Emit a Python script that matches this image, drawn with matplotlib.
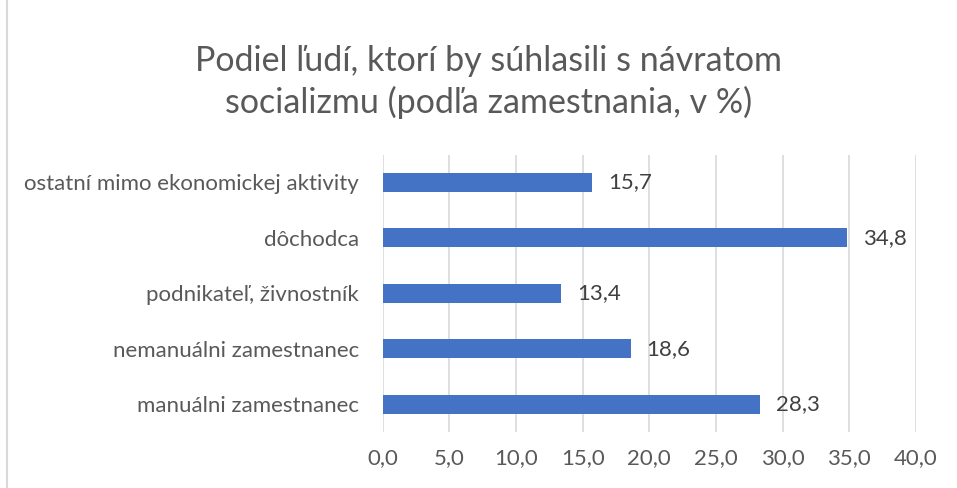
import matplotlib.pyplot as plt
from matplotlib.patches import Rectangle

categories = ['manuálni zamestnanec', 'nemanuálni zamestnanec', 'podnikateľ, živnostník',
              'dôchodca', 'ostatní mimo ekonomickej aktivity']
values = [28.3, 18.6, 13.4, 34.8, 15.7]
xticks = [0, 5, 10, 15, 20, 25, 30, 35, 40]

plt.rcParams['font.family'] = ['Lato', 'DejaVu Sans']
text_color = '#595959'

fig = plt.figure(figsize=(9.57, 4.88), dpi=100)
ax = fig.add_axes([0.400, 0.115, 0.557, 0.568])

pos = range(len(categories))
ax.barh(pos, values, height=0.34, color='#4472C4', zorder=3)
for p, v in zip(pos, values):
    ax.text(v + 1.2, p, f'{v:.1f}'.replace('.', ','), va='center', ha='left',
            fontsize=16, color='#404040')

ax.set_xlim(0, 40)
ax.set_ylim(-0.5, len(categories) - 0.5)
ax.set_xticks(xticks)
ax.set_xticklabels([f'{t:.1f}'.replace('.', ',') for t in xticks])
ax.set_yticks(list(pos))
ax.set_yticklabels(categories)
ax.tick_params(axis='both', length=0, labelsize=16, labelcolor=text_color)
ax.tick_params(axis='x', pad=12)
ax.tick_params(axis='y', pad=17)
ax.grid(axis='x', color='#D9D9D9', linewidth=1.2, zorder=0)
for s in ax.spines.values():
    s.set_visible(False)

fig.text(0.51, 0.832, 'Podiel ľudí, ktorí by súhlasili s návratom\nsocializmu (podľa zamestnania, v %)',
         ha='center', va='center', fontsize=24.5, color=text_color, linespacing=1.32)

fig.patches.append(Rectangle((0.007, -0.01), 1.0, 1.02, transform=fig.transFigure,
                             fill=False, edgecolor='#D9D9D9', linewidth=1.5))

fig.savefig('out.png', dpi=100)
